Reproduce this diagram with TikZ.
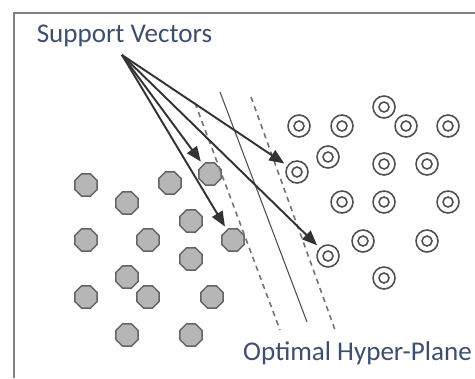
\documentclass[tikz,border=0pt]{standalone}
\usepackage{fontspec}
\setmainfont{Carlito}
\usetikzlibrary{shapes.geometric,arrows.meta}
\definecolor{labelblue}{RGB}{62,78,110}
\definecolor{octfill}{RGB}{182,182,182}
\definecolor{octline}{RGB}{100,100,100}
\definecolor{ringline}{RGB}{80,80,80}
\begin{document}
\begin{tikzpicture}[x=0.02cm,y=-0.02cm]
	\tikzstyle{negpoint}=[regular polygon,regular polygon sides=8,draw=octline,fill=octfill,line width=0.8pt,minimum size=0.48cm,inner sep=0pt]
	\tikzstyle{pospoint}=[circle,draw=ringline,line width=0.9pt,minimum size=0.44cm,inner sep=0pt,
		path picture={\draw[ringline,line width=0.9pt] (path picture bounding box.center) circle (0.1cm);}]
	\tikzstyle{pointer}=[draw=black!80,line width=1.1pt,-{Triangle[length=3mm,width=2.4mm]},shorten >=2pt]
	\tikzstyle{plane}=[draw=black!70,line width=0.6pt]
	\tikzstyle{margin}=[draw=black!55,line width=0.9pt,dash pattern=on 3pt off 2.5pt]
	\tikzstyle{caption}=[text=labelblue,font=\fontsize{15.4}{18}\selectfont,inner sep=0pt]
	\useasboundingbox (0,0) rectangle (475,378);
	\draw[black!50,line width=1.1pt] (14,378) -- (14,13) -- (475,13);
	\begin{scope}
		% class -1
		\foreach \x/\y [count=\i] in {86/185,127/203,170/183,210/174,191/221,86/240,148/240,233/240,191/259,127/277,86/297,148/297,212/297,127/335,191/335}
			\node [negpoint] (n\i) at (\x,\y) {};
		% class +1
		\foreach \x/\y [count=\i] in {384/107,299/126,342/126,406/126,448/126,328/157,297/172,384/164,427/164,342/202,384/202,448/202,363/241,427/241,328/256,384/278}
			\node [pospoint] (p\i) at (\x,\y) {};
	\end{scope}
	% separating plane and margins
	\coordinate (h1) at (220,92);  \coordinate (h2) at (307,322);
	\coordinate (m1) at (195,103); \coordinate (m2) at (280,330);
	\coordinate (m3) at (251,97);  \coordinate (m4) at (335,330);
	\path[plane] (h1) -- (h2);
	\path[margin] (m1) -- (m2);
	\path[margin] (m3) -- (m4);
	% labels and pointers
	\node [caption] (sv) at (124.5,36) {Support Vectors};
	\node [caption] (hp) at (357.5,353) {Optimal Hyper-Plane};
	\coordinate (apex) at (122,55);
	\path[pointer] (apex) -- (n4);
	\path[pointer] (apex) -- (n8);
	\path[pointer] (apex) -- (p7);
	\path[pointer] (apex) -- (p15);
\end{tikzpicture}
\end{document}
